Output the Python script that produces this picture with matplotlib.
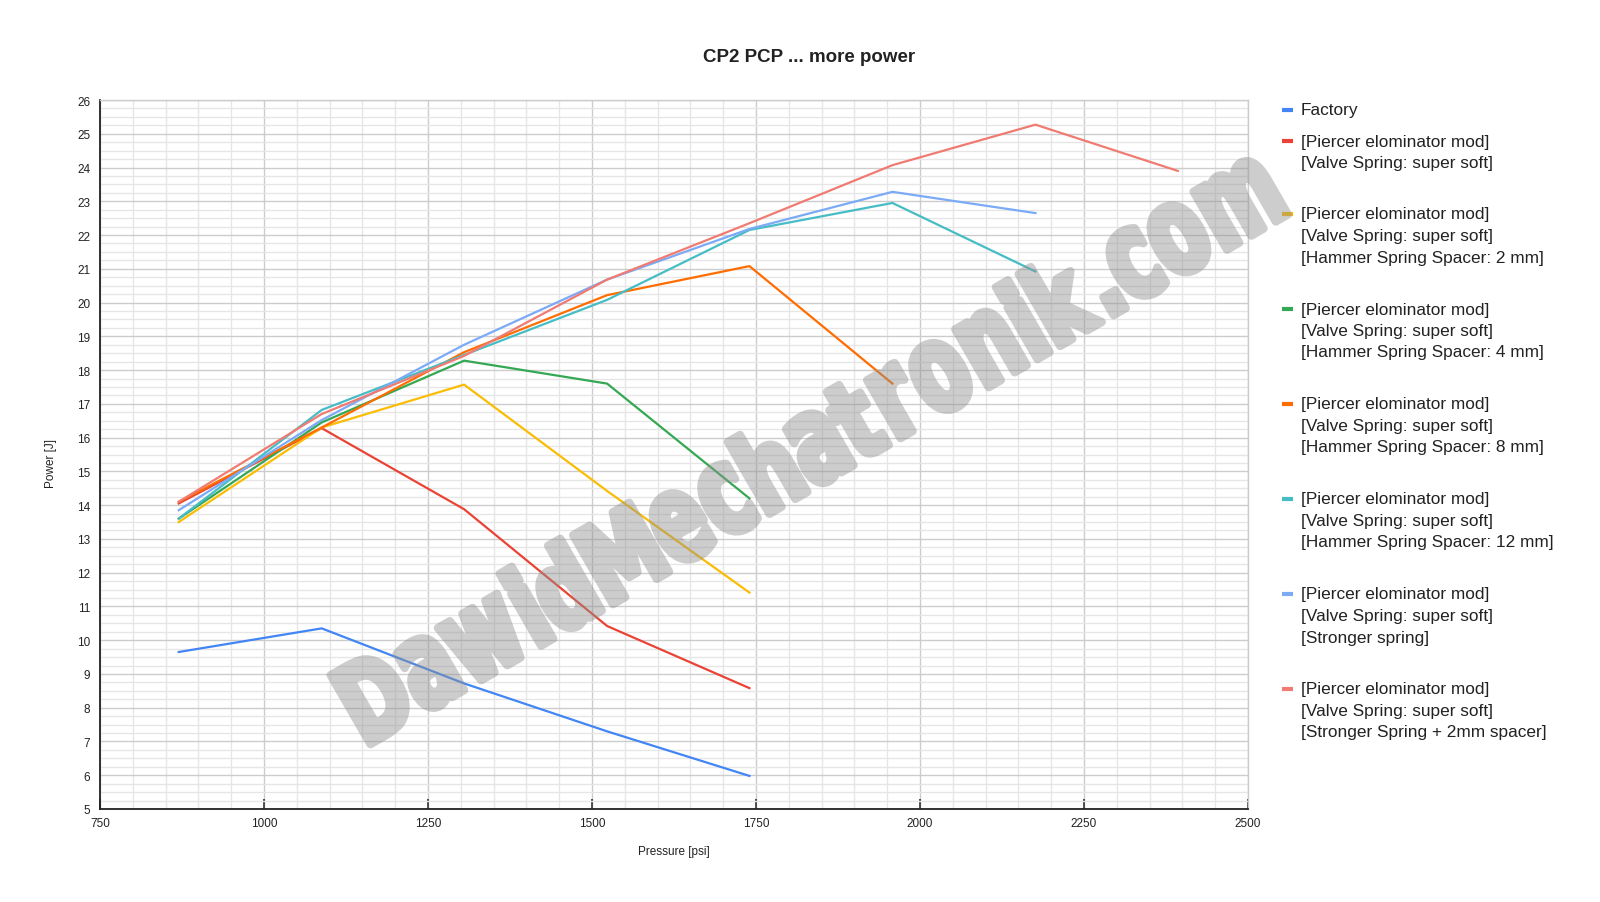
import matplotlib
matplotlib.use("Agg")
import matplotlib.pyplot as plt
import numpy as np
from matplotlib.textpath import TextPath
from matplotlib.font_manager import FontProperties
from matplotlib.patches import PathPatch
from matplotlib.path import Path
from matplotlib.transforms import Affine2D
from matplotlib.lines import Line2D
from matplotlib.ticker import MultipleLocator

# ---------------- data ----------------
pressure_psi = [870, 1088, 1305, 1523, 1740, 1958, 2176, 2393]

factory = [9.65, 10.35, 8.72, 7.3, 5.98]
super_soft = [14.05, 16.28, 13.88, 10.42, 8.58]
spacer_2mm = [13.5, 16.3, 17.57, 14.42, 11.41]
spacer_4mm = [13.6, 16.45, 18.28, 17.6, 14.2]
spacer_8mm = [14.1, 16.3, 18.53, 20.22, 21.08, 17.6]
spacer_12mm = [13.6, 16.82, 18.45, 20.08, 22.15, 22.95, 20.92]
stronger_spring = [13.85, 16.52, 18.75, 20.68, 22.18, 23.28, 22.65]
stronger_2mm = [14.1, 16.7, 18.42, 20.68, 22.35, 24.07, 25.27, 23.9]

series_values = [factory, super_soft, spacer_2mm, spacer_4mm, spacer_8mm,
                 spacer_12mm, stronger_spring, stronger_2mm]
series_labels = [
    ["Factory"],
    ["[Piercer elominator mod]", "[Valve Spring: super soft]"],
    ["[Piercer elominator mod]", "[Valve Spring: super soft]", "[Hammer Spring Spacer: 2 mm]"],
    ["[Piercer elominator mod]", "[Valve Spring: super soft]", "[Hammer Spring Spacer: 4 mm]"],
    ["[Piercer elominator mod]", "[Valve Spring: super soft]", "[Hammer Spring Spacer: 8 mm]"],
    ["[Piercer elominator mod]", "[Valve Spring: super soft]", "[Hammer Spring Spacer: 12 mm]"],
    ["[Piercer elominator mod]", "[Valve Spring: super soft]", "[Stronger spring]"],
    ["[Piercer elominator mod]", "[Valve Spring: super soft]", "[Stronger Spring + 2mm spacer]"],
]
series_colors = ["#4285F4", "#EA4335", "#FBBC04", "#34A853", "#FF6D01",
                 "#46BDC6", "#7BAAF7", "#F07B72"]

title = "CP2 PCP ... more power"
x_label = "Pressure [psi]"
y_label = "Power [J]"
watermark = "DawidMechatronik.com"

# ---------------- figure ----------------
W, H = 1600, 903
plt.rcParams['font.family'] = ['Liberation Sans', 'DejaVu Sans']
fig = plt.figure(figsize=(W / 100, H / 100), dpi=100)

def fx(px):
    return px / W

def fy(py_top):
    return 1 - py_top / H

ax_left, ax_right, ax_top, ax_bottom = 100, 1248, 101, 810
ax = fig.add_axes([fx(ax_left), fy(ax_bottom), (ax_right - ax_left) / W, (ax_bottom - ax_top) / H])

for vals, col in zip(series_values, series_colors):
    ax.plot(pressure_psi[:len(vals)], vals, color=col, lw=1.6, solid_joinstyle='round', zorder=3)

ax.set_xlim(750, 2500)
ax.set_ylim(5, 26)
ax.xaxis.set_major_locator(MultipleLocator(250))
ax.xaxis.set_minor_locator(MultipleLocator(50))
ax.yaxis.set_major_locator(MultipleLocator(1))
ax.yaxis.set_minor_locator(MultipleLocator(0.25))
ax.grid(which='major', color='#cccccc', lw=1.0, zorder=0)
ax.grid(which='minor', color='#e6e6e6', lw=1.0, zorder=0)
ax.set_axisbelow(True)

ax.tick_params(axis='x', which='major', direction='in', length=7, width=1.2, color='#333333',
               labelsize=8.5, labelcolor='#222222', pad=6)
ax.tick_params(axis='y', which='major', length=0, labelsize=8.5, labelcolor='#222222', pad=7)
ax.tick_params(which='minor', length=0)

for s in ['left', 'bottom']:
    ax.spines[s].set_color('#222222')
    ax.spines[s].set_linewidth(1.3)
for s in ['top', 'right']:
    ax.spines[s].set_color('#cccccc')
    ax.spines[s].set_linewidth(1.0)

# title & axis labels
fig.text(fx(809), fy(57), title, ha='center', va='center', fontsize=13.5, fontweight='bold', color='#222222')
fig.text(fx(674), fy(852), x_label, ha='center', va='center', fontsize=8.5, color='#222222')
fig.text(fx(51), fy(464), y_label, ha='center', va='center', fontsize=8.5, color='#222222', rotation=90)

# legend (manual layout)
legend_first_y = [111, 142, 215, 310, 405, 500, 595, 690]
line_step = 21.5
for lines, col, y0 in zip(series_labels, series_colors, legend_first_y):
    fig.lines.append(Line2D([fx(1282), fx(1293)], [fy(y0), fy(y0)], color=col, lw=3,
                            transform=fig.transFigure, solid_capstyle='butt'))
    for i, t in enumerate(lines):
        fig.text(fx(1301), fy(y0 + i * line_step), t, ha='left', va='center',
                 fontsize=12.4, color='#222222')

# ---------------- watermark (heavy condensed, semi-transparent) ----------------
fp = FontProperties(family='DejaVu Sans', weight='bold')
xheight_chars = set("acemnorsuvwxz")
gap_em = 0.07
glyphs = []
cursor = 0.0
for ch in watermark:
    tp = TextPath((0, 0), ch, size=1, prop=fp)
    v = tp.vertices.copy()
    gx0, gx1 = v[:, 0].min(), v[:, 0].max()
    v[:, 0] = v[:, 0] - gx0 + cursor
    if ch in xheight_chars:
        v[:, 1] = v[:, 1] * 1.12
    glyphs.append((v, tp.codes))
    cursor += (gx1 - gx0) + gap_em
total_em = cursor - gap_em

stroke_pt = 6.0
stroke_px = stroke_pt * 100 / 72
length_px = 1075 - stroke_px
cap_px = 88 - stroke_px
sx = length_px / total_em
sy = cap_px / 0.729
x0_px, y0_px = 360 + stroke_px / 2, H - 753 + stroke_px / 2
tr = Affine2D().scale(sx, sy).rotate_deg(30).translate(x0_px, y0_px)

all_v, all_c = [], []
for v, c in glyphs:
    vv = tr.transform(v)
    vv[:, 0] /= W
    vv[:, 1] /= H
    all_v.append(vv)
    all_c.append(c)
wm_path = Path(np.concatenate(all_v), np.concatenate(all_c))

# render the mask opaque in a scratch figure so fill + stroke do not double the alpha
fig2 = plt.figure(figsize=(W / 100, H / 100), dpi=100)
fig2.add_artist(PathPatch(wm_path, facecolor='black', edgecolor='black', lw=stroke_pt,
                          joinstyle='round', transform=fig2.transFigure))
fig2.canvas.draw()
buf = np.asarray(fig2.canvas.buffer_rgba()).astype(float)
plt.close(fig2)
mask = 1.0 - buf[..., 0] / 255.0

wm_img = np.zeros(buf.shape, dtype=float)
wm_img[..., 0] = 0x90 / 255
wm_img[..., 1] = 0x90 / 255
wm_img[..., 2] = 0x90 / 255
wm_img[..., 3] = mask * 0.45
fig.figimage(wm_img, xo=0, yo=0, origin='upper', zorder=10)

fig.savefig("out.png", dpi=100)
